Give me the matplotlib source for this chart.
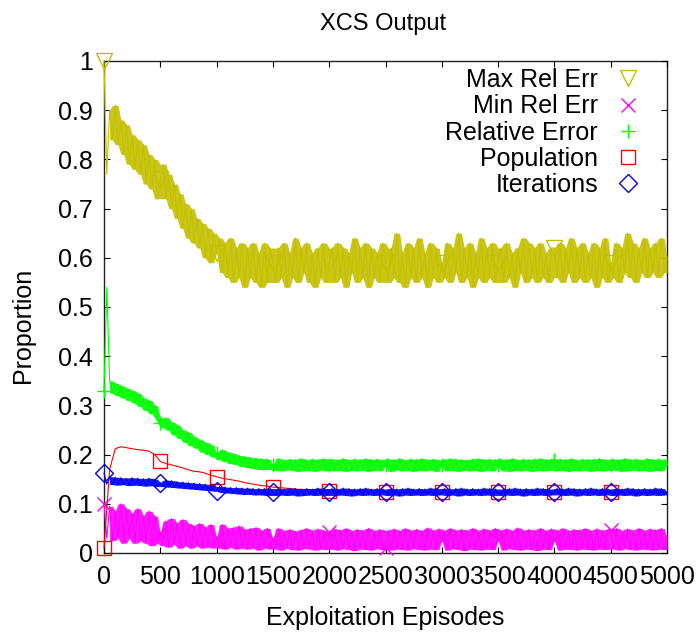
import numpy as np
import matplotlib
matplotlib.use("Agg")
import matplotlib.pyplot as plt
from matplotlib.lines import Line2D

plt.rcParams['font.family'] = ['Liberation Sans', 'DejaVu Sans']

# Sampled every 25 exploitation episodes (0 .. 5000)
episodes = np.arange(0, 5001, 25)
# Population is logged every 50 episodes
pop_episodes = np.arange(0, 5001, 50)

max_rel_err = [
    1.00, 0.77, 0.90, 0.84, 0.91, 0.83, 0.88, 0.81, 0.87, 0.79, 0.85, 0.78, 0.84, 0.77, 0.83, 0.75, 0.81, 0.74, 0.80, 0.72,
    0.76, 0.79, 0.72, 0.77, 0.70, 0.75, 0.68, 0.73, 0.66, 0.71, 0.64, 0.70, 0.63, 0.68, 0.62, 0.67, 0.60, 0.66, 0.59, 0.65,
    0.61, 0.64, 0.57, 0.63, 0.56, 0.64, 0.55, 0.62, 0.56, 0.63, 0.54, 0.62, 0.56, 0.63, 0.55, 0.61, 0.54, 0.63, 0.55, 0.62,
    0.59, 0.55, 0.62, 0.56, 0.63, 0.54, 0.61, 0.56, 0.64, 0.55, 0.62, 0.57, 0.63, 0.55, 0.61, 0.54, 0.62, 0.56, 0.63, 0.55,
    0.59, 0.62, 0.55, 0.63, 0.56, 0.62, 0.54, 0.61, 0.57, 0.64, 0.55, 0.62, 0.56, 0.63, 0.54, 0.62, 0.56, 0.61, 0.55, 0.63,
    0.59, 0.55, 0.62, 0.56, 0.65, 0.55, 0.61, 0.54, 0.63, 0.56, 0.62, 0.55, 0.64, 0.56, 0.61, 0.54, 0.63, 0.56, 0.62, 0.55,
    0.59, 0.56, 0.63, 0.55, 0.62, 0.57, 0.65, 0.55, 0.62, 0.56, 0.63, 0.54, 0.61, 0.56, 0.64, 0.55, 0.62, 0.56, 0.63, 0.55,
    0.59, 0.62, 0.55, 0.63, 0.56, 0.61, 0.54, 0.62, 0.57, 0.64, 0.55, 0.63, 0.56, 0.62, 0.55, 0.63, 0.56, 0.61, 0.55, 0.62,
    0.62, 0.56, 0.63, 0.55, 0.62, 0.57, 0.64, 0.55, 0.62, 0.56, 0.63, 0.55, 0.61, 0.56, 0.63, 0.54, 0.62, 0.56, 0.64, 0.55,
    0.59, 0.56, 0.63, 0.55, 0.62, 0.57, 0.65, 0.56, 0.63, 0.55, 0.62, 0.57, 0.64, 0.56, 0.62, 0.57, 0.63, 0.56, 0.64, 0.57,
    0.60,
]

min_rel_err = [
    0.100, 0.030, 0.095, 0.025, 0.085, 0.030, 0.100, 0.020, 0.090, 0.030, 0.080, 0.020, 0.090, 0.025, 0.075, 0.020, 0.085, 0.015, 0.075, 0.020,
    0.040, 0.015, 0.065, 0.012, 0.070, 0.018, 0.060, 0.010, 0.068, 0.015, 0.060, 0.010, 0.055, 0.015, 0.060, 0.010, 0.052, 0.012, 0.058, 0.010,
    0.030, 0.010, 0.058, 0.008, 0.050, 0.012, 0.052, 0.008, 0.055, 0.010, 0.048, 0.008, 0.050, 0.010, 0.052, 0.006, 0.046, 0.010, 0.050, 0.008,
    0.028, 0.008, 0.050, 0.006, 0.045, 0.010, 0.048, 0.007, 0.044, 0.006, 0.047, 0.009, 0.050, 0.008, 0.045, 0.006, 0.049, 0.008, 0.046, 0.007,
    0.043, 0.008, 0.049, 0.006, 0.046, 0.009, 0.050, 0.007, 0.045, 0.005, 0.048, 0.008, 0.046, 0.007, 0.050, 0.006, 0.045, 0.009, 0.048, 0.007,
    0.010, 0.046, 0.006, 0.049, 0.008, 0.045, 0.007, 0.050, 0.006, 0.046, 0.009, 0.048, 0.007, 0.045, 0.006, 0.051, 0.008, 0.046, 0.007, 0.049,
    0.027, 0.045, 0.006, 0.050, 0.009, 0.046, 0.007, 0.048, 0.005, 0.046, 0.008, 0.050, 0.007, 0.045, 0.006, 0.049, 0.008, 0.046, 0.007, 0.050,
    0.027, 0.046, 0.006, 0.049, 0.009, 0.045, 0.007, 0.051, 0.006, 0.046, 0.008, 0.048, 0.007, 0.046, 0.005, 0.050, 0.008, 0.045, 0.007, 0.049,
    0.027, 0.046, 0.006, 0.050, 0.008, 0.045, 0.007, 0.048, 0.006, 0.047, 0.008, 0.050, 0.007, 0.045, 0.006, 0.049, 0.008, 0.046, 0.007, 0.048,
    0.047, 0.008, 0.050, 0.006, 0.045, 0.009, 0.049, 0.007, 0.046, 0.006, 0.050, 0.008, 0.045, 0.007, 0.049, 0.006, 0.047, 0.008, 0.050, 0.007,
    0.030,
]

relative_error = [
    0.330, 0.540, 0.350, 0.325, 0.345, 0.320, 0.340, 0.315, 0.335, 0.310, 0.330, 0.305, 0.325, 0.298, 0.315, 0.290, 0.310, 0.283, 0.300, 0.275,
    0.265, 0.255, 0.275, 0.250, 0.266, 0.240, 0.260, 0.233, 0.250, 0.225, 0.245, 0.218, 0.236, 0.213, 0.230, 0.205, 0.225, 0.200, 0.220, 0.195,
    0.203, 0.190, 0.210, 0.186, 0.205, 0.182, 0.202, 0.180, 0.198, 0.176, 0.196, 0.174, 0.194, 0.172, 0.193, 0.170, 0.192, 0.169, 0.191, 0.170,
    0.179, 0.168, 0.192, 0.167, 0.189, 0.169, 0.191, 0.168, 0.190, 0.166, 0.192, 0.167, 0.189, 0.168, 0.191, 0.166, 0.190, 0.169, 0.192, 0.167,
    0.179, 0.191, 0.167, 0.190, 0.168, 0.192, 0.166, 0.189, 0.168, 0.191, 0.167, 0.190, 0.169, 0.192, 0.166, 0.190, 0.168, 0.191, 0.167, 0.189,
    0.179, 0.191, 0.166, 0.190, 0.169, 0.192, 0.167, 0.189, 0.168, 0.191, 0.166, 0.190, 0.168, 0.192, 0.167, 0.190, 0.169, 0.191, 0.166, 0.189,
    0.179, 0.190, 0.167, 0.192, 0.168, 0.191, 0.166, 0.190, 0.169, 0.189, 0.167, 0.191, 0.168, 0.192, 0.166, 0.190, 0.168, 0.191, 0.167, 0.190,
    0.179, 0.191, 0.167, 0.190, 0.166, 0.192, 0.168, 0.189, 0.167, 0.191, 0.169, 0.190, 0.166, 0.191, 0.168, 0.192, 0.167, 0.190, 0.168, 0.191,
    0.190, 0.167, 0.191, 0.168, 0.190, 0.166, 0.192, 0.168, 0.189, 0.167, 0.191, 0.169, 0.190, 0.166, 0.191, 0.168, 0.192, 0.167, 0.190, 0.168,
    0.179, 0.191, 0.168, 0.190, 0.166, 0.192, 0.167, 0.190, 0.169, 0.191, 0.167, 0.189, 0.168, 0.192, 0.166, 0.190, 0.168, 0.191, 0.167, 0.190,
    0.179,
]

population = [
    0.010, 0.170, 0.212, 0.216, 0.214, 0.212, 0.210, 0.209, 0.207, 0.200,
    0.186, 0.182, 0.179, 0.176, 0.173, 0.169, 0.166, 0.165, 0.162, 0.158,
    0.155, 0.152, 0.150, 0.148, 0.146, 0.143, 0.141, 0.139, 0.137, 0.136,
    0.134, 0.133, 0.132, 0.131, 0.130, 0.129, 0.129, 0.128, 0.128, 0.127,
    0.127, 0.126, 0.126, 0.125, 0.125, 0.125, 0.124, 0.124, 0.124, 0.124,
    0.124, 0.123, 0.123, 0.123, 0.123, 0.123, 0.123, 0.123, 0.123, 0.123,
    0.123, 0.123, 0.123, 0.123, 0.123, 0.123, 0.123, 0.123, 0.123, 0.123,
    0.123, 0.123, 0.123, 0.123, 0.123, 0.123, 0.123, 0.123, 0.123, 0.123,
    0.123, 0.123, 0.123, 0.123, 0.123, 0.123, 0.123, 0.123, 0.123, 0.123,
    0.123, 0.123, 0.123, 0.123, 0.123, 0.123, 0.123, 0.123, 0.123, 0.123,
    0.123,
]

iterations = [
    0.162, 0.140, 0.155, 0.139, 0.154, 0.138, 0.153, 0.139, 0.152, 0.137, 0.153, 0.138, 0.152, 0.137, 0.151, 0.136, 0.152, 0.137, 0.150, 0.135,
    0.143, 0.135, 0.148, 0.134, 0.147, 0.133, 0.145, 0.132, 0.144, 0.131, 0.143, 0.130, 0.142, 0.129, 0.141, 0.128, 0.140, 0.127, 0.139, 0.126,
    0.126, 0.135, 0.123, 0.134, 0.122, 0.133, 0.121, 0.133, 0.120, 0.132, 0.119, 0.132, 0.119, 0.131, 0.118, 0.131, 0.118, 0.131, 0.117, 0.131,
    0.124, 0.117, 0.131, 0.118, 0.130, 0.117, 0.132, 0.118, 0.131, 0.116, 0.130, 0.117, 0.131, 0.118, 0.130, 0.117, 0.132, 0.118, 0.131, 0.117,
    0.124, 0.131, 0.117, 0.130, 0.118, 0.132, 0.117, 0.131, 0.116, 0.130, 0.118, 0.131, 0.117, 0.132, 0.118, 0.130, 0.117, 0.131, 0.118, 0.130,
    0.124, 0.117, 0.131, 0.118, 0.130, 0.116, 0.131, 0.118, 0.132, 0.117, 0.130, 0.118, 0.131, 0.117, 0.130, 0.118, 0.132, 0.117, 0.131, 0.118,
    0.123, 0.131, 0.117, 0.130, 0.118, 0.131, 0.116, 0.132, 0.118, 0.130, 0.117, 0.131, 0.118, 0.130, 0.117, 0.132, 0.118, 0.131, 0.117, 0.130,
    0.124, 0.117, 0.130, 0.118, 0.131, 0.117, 0.132, 0.118, 0.130, 0.116, 0.131, 0.118, 0.130, 0.117, 0.132, 0.118, 0.131, 0.117, 0.130, 0.118,
    0.124, 0.131, 0.118, 0.130, 0.117, 0.132, 0.118, 0.131, 0.116, 0.130, 0.118, 0.131, 0.117, 0.132, 0.118, 0.130, 0.117, 0.131, 0.118, 0.130,
    0.123, 0.117, 0.131, 0.118, 0.130, 0.117, 0.132, 0.118, 0.131, 0.116, 0.130, 0.118, 0.131, 0.117, 0.130, 0.118, 0.132, 0.117, 0.131, 0.118,
    0.124,
]

series_labels = ["Max Rel Err", "Min Rel Err", "Relative Error", "Population", "Iterations"]

xticks = [0, 500, 1000, 1500, 2000, 2500, 3000, 3500, 4000, 4500, 5000]
xtick_labels = ["0", "500", "1000", "1500", "2000", "2500", "3000", "3500", "4000", "4500", "5000"]
yticks = [0, 0.1, 0.2, 0.3, 0.4, 0.5, 0.6, 0.7, 0.8, 0.9, 1.0]
ytick_labels = ["0", "0.1", "0.2", "0.3", "0.4", "0.5", "0.6", "0.7", "0.8", "0.9", "1"]


def local_envelope(y):
    """Running max/min over each sample and its two neighbours."""
    p = np.pad(np.asarray(y, dtype=float), 1, mode="edge")
    hi = np.maximum(np.maximum(p[:-2], p[1:-1]), p[2:])
    lo = np.minimum(np.minimum(p[:-2], p[1:-1]), p[2:])
    return hi, lo


W, H = 698, 632
fig = plt.figure(figsize=(W / 100, H / 100), dpi=100)
left, right, top, bottom = 104, 667, 61, 553
ax = fig.add_axes([left / W, 1 - bottom / H, (right - left) / W, (bottom - top) / H])

styles = [
    dict(color="#c4c000", marker="v", ms=12),
    dict(color="#ff00ff", marker="x", ms=10),
    dict(color="#00ff00", marker="+", ms=10),
    dict(color="#ff0000", marker="s", ms=10),
    dict(color="#0000ff", marker="D", ms=9),
]

# (x, y, marker spacing, draw noise band); points every 500 episodes, last one excluded
data = [
    (episodes, max_rel_err, 20, True),
    (episodes, min_rel_err, 20, True),
    (episodes, relative_error, 20, True),
    (pop_episodes, population, 10, False),
    (episodes, iterations, 20, True),
]

handles = []
for z, ((x, y, every, band), st, lab) in enumerate(zip(data, styles, series_labels)):
    if band:
        # shade the dense sample-to-sample spread of the noisy runs
        hi, lo = local_envelope(y[2:])
        ax.fill_between(x[2:], lo, hi, color=st["color"], lw=0, alpha=0.9, zorder=2 + z)
    ax.plot(x, y, color=st["color"], lw=0.8, marker=st["marker"], ms=st["ms"],
            markevery=slice(0, len(x) - 1, every), mfc="none", mec=st["color"],
            mew=1.0, zorder=2 + z, clip_on=False)
    handles.append(Line2D([], [], ls="none", marker=st["marker"], ms=st["ms"],
                          mfc="none", mec=st["color"], mew=1.0, label=lab))

ax.set_xlim(0, 5000)
ax.set_ylim(0, 1)
ax.set_xticks(xticks)
ax.set_xticklabels(xtick_labels)
ax.set_yticks(yticks)
ax.set_yticklabels(ytick_labels)
ax.tick_params(direction="in", length=4.5, width=0.8, top=True, right=True,
               labelsize=18, colors="black")
ax.tick_params(axis="x", pad=9)
ax.tick_params(axis="y", pad=8)
for s in ax.spines.values():
    s.set_color("#222222")
    s.set_linewidth(1.0)
    s.set_zorder(1)

leg = fig.legend(handles=handles, loc="upper right",
                 bbox_to_anchor=(643 / W, 1 - 68 / H), frameon=False,
                 markerfirst=False, fontsize=18, handlelength=1.2,
                 handletextpad=0.6, labelspacing=0.09, borderpad=0,
                 borderaxespad=0)

fig.text(383 / W, 1 - 30 / H, "XCS Output", ha="center", va="baseline", fontsize=17)
fig.text(385.5 / W, 1 - 625 / H, "Exploitation Episodes", ha="center", va="baseline", fontsize=18)
fig.text(23 / W, 307 / H, "Proportion", ha="center", va="center", rotation=90, fontsize=18)

fig.savefig("out.png", dpi=100)
